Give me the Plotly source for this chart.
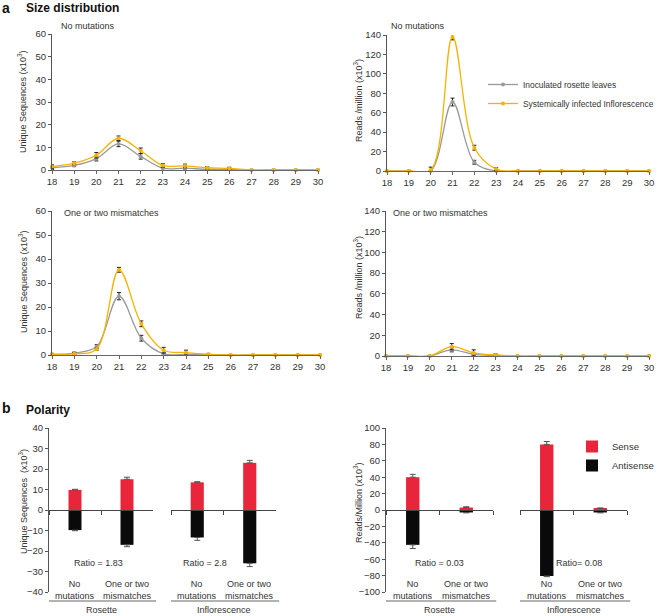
import plotly.graph_objects as go

W, H = 660, 616
FONT = "Liberation Sans, Arial, sans-serif"
TXT = "#333333"
GREY = "#9a9a9a"
ORANGE = "#f5b300"
RED = "#e8253a"
BLACK = "#0a0a0a"

# ---------------- data ----------------
sizes = list(range(18, 31))
series_names = ["Inoculated rosette leaves", "Systemically infected Inflorescence"]

# Unique sequences (x10^3), no mutations
uniq_nomut_ros = [1.0, 2.0, 5.0, 11.5, 6.0, 0.8, 0.8, 0.3, 0.3, 0, 0, 0, 0]
uniq_nomut_ros_err = [0.8, 0.5, 1.0, 1.2, 1.2, 1.0, 0.8, 0.4, 0.4, 0, 0, 0, 0]
uniq_nomut_inf = [1.5, 3.0, 6.5, 14.0, 8.5, 2.0, 1.8, 1.0, 0.7, 0, 0, 0, 0]
uniq_nomut_inf_err = [0.8, 0.6, 1.2, 1.0, 1.2, 0.8, 0.8, 0.5, 0.5, 0, 0, 0, 0]

# Reads/million (x10^3), no mutations
reads_nomut_ros = [0, 0, 0, 71, 9, 0, 0, 0, 0, 0, 0, 0, 0]
reads_nomut_ros_err = [0, 0, 0, 4, 2, 0, 0, 0, 0, 0, 0, 0, 0]
reads_nomut_inf = [0, 0, 1, 138, 24, 2, 0, 0, 0, 0, 0, 0, 0]
reads_nomut_inf_err = [0, 0, 3, 3, 2.5, 1.5, 0, 0, 0, 0, 0, 0, 0]

# Unique sequences, one or two mismatches
uniq_mm_ros = [0.3, 0.8, 3.5, 24.5, 7.0, 0.5, 0.3, 0.2, 0, 0, 0, 0, 0]
uniq_mm_ros_err = [0, 0.4, 0.8, 1.5, 1.2, 0.5, 0.5, 0, 0, 0, 0, 0, 0]
uniq_mm_inf = [0.3, 0.5, 2.5, 35.5, 13.0, 2.0, 1.0, 0.3, 0, 0, 0, 0, 0]
uniq_mm_inf_err = [0, 0.5, 0.5, 1.0, 1.2, 1.2, 1.0, 0, 0, 0, 0, 0, 0]

# Reads/million, one or two mismatches
reads_mm_ros = [0, 0, 0, 6, 1.5, 0.5, 0, 0, 0, 0, 0, 0, 0]
reads_mm_ros_err = [0, 0, 0, 2, 1, 0.5, 0, 0, 0, 0, 0, 0, 0]
reads_mm_inf = [0, 0, 0, 9, 3, 1, 0, 0, 0, 0, 0, 0, 0]
reads_mm_inf_err = [0, 0, 0, 3, 3, 1, 0, 0, 0, 0, 0, 0, 0]

# Polarity
categories = ["No<br>mutations", "One or two<br>mismatches"]
groups = ["Rosette", "Inflorescence"]
pol_uniq_sense_ros = [9.8, 15.0]
pol_uniq_sense_ros_err = [0.3, 1.0]
pol_uniq_anti_ros = [-9.8, -17.0]
pol_uniq_anti_ros_err = [0.3, 0.9]
pol_uniq_sense_inf = [13.5, 23.0]
pol_uniq_sense_inf_err = [0.3, 1.2]
pol_uniq_anti_inf = [-13.4, -26.0]
pol_uniq_anti_inf_err = [1.4, 1.6]
ratios_uniq = ["Ratio = 1.83", "Ratio = 2.8"]

pol_reads_sense_ros = [40.0, 3.0]
pol_reads_sense_ros_err = [3.5, 1.0]
pol_reads_anti_ros = [-42.5, -3.0]
pol_reads_anti_ros_err = [4.5, 0.5]
pol_reads_sense_inf = [80.0, 2.0]
pol_reads_sense_inf_err = [3.5, 0.5]
pol_reads_anti_inf = [-80.5, -3.0]
pol_reads_anti_inf_err = [0.8, 0.5]
ratios_reads = ["Ratio = 0.03", "Ratio= 0.08"]

UNIQ_T = "Unique Sequences (x10<sup>3</sup>)"
UNIQ_T2 = "Unique Sequences  (x10<sup>3</sup>)"
READS_T = "Reads /million (x10<sup>3</sup>)"
READS_T2 = "Reads/Million (x10<sup>3</sup>)"

# --------------- helpers ---------------
def px(x):
    return x / W

def py(y):
    return 1 - y / H

fig = go.Figure()

def line_pair(xa, ya, ros, ros_err, inf, inf_err, legend):
    for name, vals, errs, col in [
        (series_names[0], ros, ros_err, GREY),
        (series_names[1], inf, inf_err, ORANGE),
    ]:
        fig.add_trace(go.Scatter(
            x=sizes, y=vals, name=name, mode="lines+markers",
            line=dict(color=col, width=1.3, shape="spline", smoothing=1),
            marker=dict(color=col, size=4),
            error_y=dict(type="data", array=errs, color="#222222", thickness=1, width=2),
            xaxis=xa, yaxis=ya, showlegend=legend, cliponaxis=False,
            legend="legend",
        ))

line_pair("x", "y", uniq_nomut_ros, uniq_nomut_ros_err, uniq_nomut_inf, uniq_nomut_inf_err, False)
line_pair("x2", "y2", reads_nomut_ros, reads_nomut_ros_err, reads_nomut_inf, reads_nomut_inf_err, True)
line_pair("x3", "y3", uniq_mm_ros, uniq_mm_ros_err, uniq_mm_inf, uniq_mm_inf_err, False)
line_pair("x4", "y4", reads_mm_ros, reads_mm_ros_err, reads_mm_inf, reads_mm_inf_err, False)

def bars(xa, ya, sense, sense_err, anti, anti_err, legend):
    fig.add_trace(go.Bar(
        x=categories, y=sense, name="Sense", marker=dict(color=RED, line=dict(width=0)),
        width=0.25, xaxis=xa, yaxis=ya, showlegend=legend, legend="legend2",
        error_y=dict(type="data", symmetric=False, array=sense_err, arrayminus=[0, 0],
                     color="#555555", thickness=1, width=3),
    ))
    fig.add_trace(go.Bar(
        x=categories, y=anti, name="Antisense", marker=dict(color=BLACK, line=dict(width=0)),
        width=0.25, xaxis=xa, yaxis=ya, showlegend=legend, legend="legend2",
        error_y=dict(type="data", symmetric=False, array=[0, 0], arrayminus=anti_err,
                     color="#555555", thickness=1, width=3),
    ))

bars("x5", "y5", pol_uniq_sense_ros, pol_uniq_sense_ros_err, pol_uniq_anti_ros, pol_uniq_anti_ros_err, False)
bars("x6", "y5", pol_uniq_sense_inf, pol_uniq_sense_inf_err, pol_uniq_anti_inf, pol_uniq_anti_inf_err, False)
bars("x7", "y7", pol_reads_sense_ros, pol_reads_sense_ros_err, pol_reads_anti_ros, pol_reads_anti_ros_err, True)
bars("x8", "y7", pol_reads_sense_inf, pol_reads_sense_inf_err, pol_reads_anti_inf, pol_reads_anti_inf_err, False)

tickfont = dict(family=FONT, size=9.5, color=TXT)

def line_x(dom):
    return dict(domain=[px(dom[0]), px(dom[1])], range=[18, 30], tickvals=sizes,
                automargin=False,
                showgrid=False, zeroline=False, showline=True, linecolor="#666666", linewidth=1,
                ticks="outside", ticklen=3, tickcolor="#666666", tickfont=tickfont)

def line_y(dom, rng, dt):
    return dict(domain=[py(dom[1]), py(dom[0])], range=rng, dtick=dt,
                automargin=False,
                showgrid=False, zeroline=False, showline=True, linecolor="#555555", linewidth=1,
                ticks="outside", ticklen=3, tickcolor="#555555", tickfont=tickfont)

layout = dict(
    width=W, height=H, margin=dict(l=0, r=0, t=0, b=0, autoexpand=False),
    paper_bgcolor="white", plot_bgcolor="rgba(0,0,0,0)",
    font=dict(family=FONT, size=9, color=TXT),
    barmode="relative",
    xaxis=line_x((52, 318)), yaxis=line_y((34, 170), [0, 60], 10),
    xaxis2=line_x((387, 649)), yaxis2=line_y((35, 171), [0, 140], 20),
    xaxis3=line_x((52, 320)), yaxis3=line_y((211, 355), [0, 60], 10),
    xaxis4=line_x((386, 649)), yaxis4=line_y((211, 356), [0, 140], 20),
    legend=dict(x=px(483), y=py(70), xanchor="left", yanchor="top",
                font=dict(family=FONT, size=8.4, color=TXT), bgcolor="rgba(0,0,0,0)",
                tracegroupgap=0, itemwidth=30),
    legend2=dict(x=px(572), y=py(432), xanchor="left", yanchor="top",
                 font=dict(family=FONT, size=9.5, color=TXT), bgcolor="rgba(0,0,0,0)",
                 tracegroupgap=0, itemwidth=30),
)
layout["yaxis2"]["anchor"] = "x2"
layout["yaxis3"]["anchor"] = "x3"
layout["yaxis4"]["anchor"] = "x4"
layout["xaxis2"]["anchor"] = "y2"
layout["xaxis3"]["anchor"] = "y3"
layout["xaxis4"]["anchor"] = "y4"

# bar panels
BY = (428, 592)
zero_pos = py((BY[0] + BY[1]) / 2)

def bar_x(dom):
    return dict(domain=[px(dom[0]), px(dom[1])], range=[-0.5, 1.5], type="category",
                categoryorder="array", categoryarray=categories, automargin=False,
                anchor="free", position=zero_pos, showticklabels=False,
                showgrid=False, zeroline=False, showline=True, linecolor="#444444", linewidth=1,
                ticks="outside", ticklen=4, tickcolor="#444444", tickson="boundaries")

def bar_y(rng, dt, anchor):
    return dict(domain=[py(BY[1]), py(BY[0])], range=rng, dtick=dt, anchor=anchor,
                automargin=False,
                showgrid=False, zeroline=False, showline=True, linecolor="#555555", linewidth=1,
                ticks="outside", ticklen=3, tickcolor="#555555", tickfont=tickfont)

layout["xaxis5"] = bar_x((49, 153))
layout["xaxis6"] = bar_x((171, 276))
layout["xaxis7"] = bar_x((386, 493))
layout["xaxis8"] = bar_x((520, 627))
layout["yaxis5"] = bar_y([-40, 40], 10, "x5")
layout["yaxis7"] = bar_y([-100, 100], 20, "x7")

fig.update_layout(**layout)

ann = []
def text(x, y, s, size=9, bold=False, xanchor="left", color=TXT, angle=0):
    ann.append(dict(x=x, y=y, xref="paper", yref="paper", text=("<b>%s</b>" % s) if bold else s,
                    showarrow=False, xanchor=xanchor, yanchor="middle", textangle=angle,
                    font=dict(family=FONT, size=size, color=color)))

text(px(0), py(8), "a", size=14, bold=True, color="#111111")
text(px(24), py(8), "Size distribution", size=12, bold=True, color="#111111")
text(px(0), py(408), "b", size=14, bold=True, color="#111111")
text(px(24), py(410), "Polarity", size=12, bold=True, color="#111111")

text(px(59), py(26), "No mutations")
text(px(389), py(26), "No mutations")
text(px(62), py(213), "One or two mismatches")
text(px(391), py(213), "One or two mismatches")

# y-axis titles
for (x, y, s) in [(22, 102, UNIQ_T), (358, 101, READS_T), (23, 282, UNIQ_T),
                  (358, 278, READS_T), (23, 502, UNIQ_T2), (358, 503, READS_T2)]:
    text(px(x), py(y), s, xanchor="center", angle=-90)

# bar panel category labels, ratios, group labels
shapes = []
for xa, ya, ratio, grp, ry, rx in [
    ("x5", "y5", ratios_uniq[0], groups[0], -25.8, 0.45),
    ("x6", "y5", ratios_uniq[1], groups[1], -25.8, 0.15),
    ("x7", "y7", ratios_reads[0], groups[0], -64.5, 0.5),
    ("x8", "y7", ratios_reads[1], groups[1], -64.5, 0.6),
]:
    for i, c in enumerate(categories):
        ann.append(dict(x=i, y=py(590), xref=xa, yref="paper", text=c, showarrow=False,
                        xanchor="center", yanchor="middle",
                        font=dict(family=FONT, size=9, color=TXT)))
    ann.append(dict(x=rx, y=ry, xref=xa, yref=ya, text=ratio,
                    showarrow=False, xanchor="center", yanchor="middle",
                    font=dict(family=FONT, size=9, color=TXT)))
    ann.append(dict(x=0.5, y=py(610), xref=xa + " domain", yref="paper", text=grp,
                    showarrow=False, xanchor="center", yanchor="middle",
                    font=dict(family=FONT, size=9, color=TXT)))
    shapes.append(dict(type="line", xref=xa + " domain", yref="paper", x0=0, x1=1.03,
                       y0=py(601), y1=py(601), line=dict(color="#666666", width=1)))

fig.update_layout(annotations=ann, shapes=shapes)
fig.write_html("out.html", config={"displayModeBar": False},
               post_script="document.body.style.margin='0';document.body.style.overflow='hidden';")
